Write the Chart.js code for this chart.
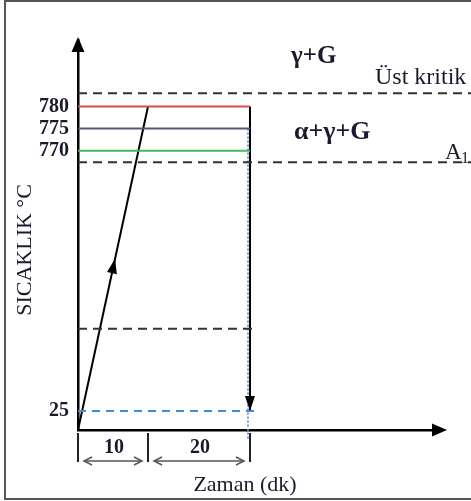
<!DOCTYPE html>
<html><head><meta charset="utf-8">
<script src="https://cdn.jsdelivr.net/npm/chart.js@4/dist/chart.umd.min.js"></script>
<style>html,body{margin:0;padding:0;background:#fff}#wrap{width:471px;height:501px;position:relative}</style>
</head><body><div id="wrap"><canvas id="c"></canvas></div>
<script>
// ---------------- data ----------------
const TEMP_TICKS = [25, 770, 775, 780];          // labelled temperatures (°C)
const HOLD_TEMPS = [780, 775, 770];              // intercritical holding temperatures
const HOLD_COLORS = ['#e0474c', '#5e5478', '#3dba62'];
const STEP_TIMES = [0, 10, 30];                  // start, end of heating, end of holding (dk)
const STEP_LABELS = ['10', '20'];                // durations shown under the time axis
const HEAT_TEMPS = [0, 780];                     // heating path
const QUENCH_TEMPS = [780, 25];                  // quench path
const DOTTED_TIMES = [29.6, 29.6];
const DOTTED_TEMPS = [775, -13];
const UPPER_CRIT = 783;                          // Üst kritik
const A1_TEMP = 767.4;                           // A1
const MID_TEMP = 305;                            // unlabelled dashed level
const ROOM_TEMP = 25;
const LINE_END_TIME = 77;
const MID_END_TIME = 30.6;
const ROOM_END_TIME = 31.3;
const REGION_LABELS = ['γ+G', 'α+γ+G'];
const CRIT_LABELS = ['Üst kritik', 'A', '1'];
const Y_TITLE = 'SICAKLIK °C';
const X_TITLE = 'Zaman (dk)';

// ------------- piecewise (schematic) scale -------------
function pwMap(v, br) {
  let i = 1;
  while (i < br.length - 1 && v > br[i][0]) i++;
  const [v0, f0] = br[i - 1], [v1, f1] = br[i];
  return f0 + (v - v0) * (f1 - f0) / (v1 - v0);
}
function pwInv(f, br) {
  let i = 1;
  while (i < br.length - 1 && f > br[i][1]) i++;
  const [v0, f0] = br[i - 1], [v1, f1] = br[i];
  return v0 + (f - f0) * (v1 - v0) / (f1 - f0);
}
class PiecewiseScale extends Chart.LinearScale {
  getPixelForValue(value) {
    if (value === null || value === undefined || isNaN(value)) return NaN;
    return this.getPixelForDecimal(pwMap(+value, this.options.breaks));
  }
  getValueForPixel(pixel) {
    return pwInv(this.getDecimalForPixel(pixel), this.options.breaks);
  }
}
PiecewiseScale.id = 'piecewise';
PiecewiseScale.defaults = Chart.LinearScale.defaults;
Chart.register(PiecewiseScale);

// ------------- datasets -------------
const seg = (xs, ys) => xs.map((x, i) => ({x, y: ys[i]}));
const datasets = [];
const dash = (y, xEnd, color, pattern) => ({data: seg([0, xEnd], [y, y]), borderColor: color, borderDash: pattern, borderWidth: 2});
datasets.push(dash(UPPER_CRIT, LINE_END_TIME, '#333', [9, 6]));
datasets.push(dash(A1_TEMP, LINE_END_TIME, '#333', [9, 6]));
datasets.push(dash(MID_TEMP, MID_END_TIME, '#333', [9, 6]));
datasets.push(dash(ROOM_TEMP, ROOM_END_TIME, '#3d8fd6', [8, 6]));
HOLD_TEMPS.forEach((t, i) => datasets.push({data: seg([0, STEP_TIMES[2]], [t, t]), borderColor: HOLD_COLORS[i], borderWidth: 2}));
datasets.push({data: seg(DOTTED_TIMES, DOTTED_TEMPS), borderColor: '#6a9ad8', borderDash: [2, 2], borderWidth: 2});
datasets.push({data: seg([STEP_TIMES[0], STEP_TIMES[1]], HEAT_TEMPS), borderColor: '#000', borderWidth: 2, arrow: 'mid'});
datasets.push({data: seg([STEP_TIMES[2], STEP_TIMES[2]], QUENCH_TEMPS), borderColor: '#000', borderWidth: 2, arrow: 'end'});
datasets.forEach(d => { d.clip = false; d.pointRadius = 0; d.fill = false; d.tension = 0; });

// ------------- drawing helpers -------------
function head(ctx, x, y, ang, len, half, color) {
  ctx.save(); ctx.translate(x, y); ctx.rotate(ang);
  ctx.beginPath(); ctx.moveTo(0, 0); ctx.lineTo(-len, -half); ctx.lineTo(-len, half); ctx.closePath();
  ctx.fillStyle = color; ctx.fill(); ctx.restore();
}
function chevron(ctx, x, y, dir) {
  ctx.beginPath(); ctx.moveTo(x + dir * 8, y - 4); ctx.lineTo(x, y); ctx.lineTo(x + dir * 8, y + 4); ctx.stroke();
}
const SERIF = '"Liberation Serif", "Times New Roman", serif';
const TXT = '#1a1a2e';

const decor = {
  id: 'decor',
  beforeDraw(chart) {
    const ctx = chart.ctx;
    ctx.save(); ctx.fillStyle = '#fff'; ctx.fillRect(0, 0, chart.width, chart.height);
    ctx.strokeStyle = '#555'; ctx.lineWidth = 2; ctx.strokeRect(5, 1, 500, 498); ctx.restore();
  },
  afterDraw(chart) {
    const ctx = chart.ctx, a = chart.chartArea, xs = chart.scales.x;
    ctx.save();
    // axis arrows
    head(ctx, a.left, a.top - 3, -Math.PI / 2, 15, 6.5, '#000');
    head(ctx, a.right + 7, a.bottom, 0, 15, 6.5, '#000');
    // dataset arrows
    chart.data.datasets.forEach((d, i) => {
      if (!d.arrow) return;
      const m = chart.getDatasetMeta(i).data, p0 = m[0], p1 = m[1];
      const ang = Math.atan2(p1.y - p0.y, p1.x - p0.x);
      if (d.arrow === 'mid') {
        const t = 0.53;
        head(ctx, p0.x + t * (p1.x - p0.x), p0.y + t * (p1.y - p0.y), ang, 15, 5, '#000');
      } else {
        head(ctx, p1.x, p1.y, ang, 15, 5, '#000');
      }
    });
    // time dimension marks
    const px = STEP_TIMES.map(t => xs.getPixelForValue(t));
    ctx.strokeStyle = '#222'; ctx.lineWidth = 2;
    px.forEach(x => { ctx.beginPath(); ctx.moveTo(x, a.bottom + 3); ctx.lineTo(x, a.bottom + 32); ctx.stroke(); });
    ctx.strokeStyle = '#555'; ctx.lineWidth = 1.5;
    const ay = a.bottom + 31;
    for (let i = 0; i < px.length - 1; i++) {
      const x0 = px[i] + 6, x1 = px[i + 1] - 6;
      ctx.beginPath(); ctx.moveTo(x0, ay); ctx.lineTo(x1, ay); ctx.stroke();
      chevron(ctx, x0, ay, 1); chevron(ctx, x1, ay, -1);
      ctx.fillStyle = TXT; ctx.font = 'bold 20px ' + SERIF; ctx.textAlign = 'center'; ctx.textBaseline = 'middle';
      ctx.fillText(STEP_LABELS[i], (px[i] + px[i + 1]) / 2 + 1, a.bottom + 18);
    }
    // axis titles
    ctx.fillStyle = TXT; ctx.font = '22px ' + SERIF; ctx.textAlign = 'center'; ctx.textBaseline = 'middle';
    ctx.fillText(X_TITLE, 245, 485);
    ctx.save(); ctx.translate(25, 250); ctx.rotate(-Math.PI / 2); ctx.fillText(Y_TITLE, 0, 0); ctx.restore();
    // region & critical labels
    ctx.textAlign = 'left'; ctx.textBaseline = 'alphabetic';
    ctx.font = 'bold 25px ' + SERIF;
    ctx.fillText(REGION_LABELS[0], 291, 63);
    ctx.font = 'bold 26px ' + SERIF;
    ctx.fillText(REGION_LABELS[1], 294, 139);
    ctx.font = '24px ' + SERIF;
    ctx.fillText(CRIT_LABELS[0], 375, 84);
    ctx.font = '23px ' + SERIF;
    ctx.fillText(CRIT_LABELS[1], 445, 159);
    ctx.font = '16px ' + SERIF;
    ctx.fillText(CRIT_LABELS[2], 461, 163);
    ctx.restore();
  }
};

new Chart(document.getElementById('c'), {
  type: 'line',
  data: {datasets},
  plugins: [decor],
  options: {
    responsive: true, maintainAspectRatio: false, animation: false,
    layout: {padding: {left: 0, top: 40, right: 31, bottom: 0}},
    plugins: {legend: {display: false}, tooltip: {enabled: false}},
    scales: {
      x: {
        type: 'piecewise', min: 0, max: 70,
        breaks: [[0, 0], [10, 0.1934], [30, 0.4751], [70, 1]],
        grid: {display: false, drawTicks: false},
        border: {display: true, color: '#000', width: 2.5},
        ticks: {display: false},
        afterFit(s) { s.height = 71; }
      },
      y: {
        type: 'piecewise', min: 0, max: 795,
        breaks: [[0, 0], [25, 0.0487], [760, 0.6026], [795, 1]],
        grid: {display: false, drawTicks: false},
        border: {display: true, color: '#000', width: 2.5},
        afterBuildTicks(s) { s.ticks = TEMP_TICKS.map(v => ({value: v})); },
        ticks: {color: TXT, padding: 9, font: {family: SERIF, size: 20, weight: 'bold'}, callback: v => String(v)},
        afterFit(s) { s.width = 78; }
      }
    }
  }
});
</script></body></html>
